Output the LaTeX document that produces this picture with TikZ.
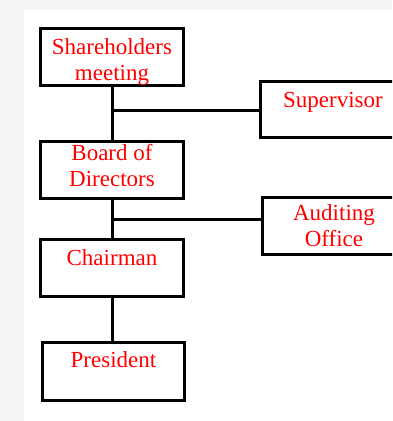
\documentclass[tikz,border=0pt]{standalone}
\usepackage{fontspec}
\setmainfont{Liberation Serif}
\begin{document}
\begin{tikzpicture}[x=1pt,y=-1pt,
  orgbox/.style={draw=black,line width=3pt,line join=miter,fill=white,
    rectangle,inner sep=0pt,minimum width=#1},
  orgbox/.default=143pt,
  orgtext/.style={text=red,anchor=base,align=center,inner sep=0pt,
    font=\fontsize{23}{26}\selectfont},
  link/.style={draw=black,line width=3pt}]
  % page: grey frame with a white sheet
  \useasboundingbox (0,0) rectangle (392,421);
  \clip (0,0) rectangle (392,421);
  \fill[black!4] (0,0) rectangle (392,421);
  \fill[white] (24,10) rectangle (392,421);

  % boxes
  \node[orgbox,minimum height=57pt] (share) at (112,57) {};
  \node[orgbox,minimum height=57pt] (board) at (112,170) {};
  \node[orgbox,minimum height=57pt] (chair) at (112,268) {};
  \node[orgbox=142pt,minimum height=58pt] (pres) at (113.5,371.5) {};
  \node[orgbox=145pt,minimum height=56pt] (sup) at (333,109.5) {};
  \node[orgbox=144pt,minimum height=57pt] (aud) at (334,226) {};

  % labels (a multi-line label sits on the baseline of its last line)
  \node[orgtext] (shareT) at (112,80) {Shareholders\\meeting};
  \node[orgtext] (boardT) at (112,186) {Board of\\Directors};
  \node[orgtext] (chairT) at (112,265) {Chairman};
  \node[orgtext] (presT) at (113.5,367) {President};
  \node[orgtext] (supT) at (333,107) {Supervisor};
  \node[orgtext] (audT) at (334,246) {Auditing\\Office};

  % connectors
  \coordinate (j1) at (112,110);
  \coordinate (j2) at (112,219.5);
  \draw[link] (share.south) -- (board.north);
  \draw[link] (j1) -- (j1 -| sup.west);
  \draw[link] (board.south) -- (chair.north);
  \draw[link] (j2) -- (j2 -| aud.west);
  \draw[link] (chair.south) -- (chair.south |- pres.north);
\end{tikzpicture}
\end{document}
